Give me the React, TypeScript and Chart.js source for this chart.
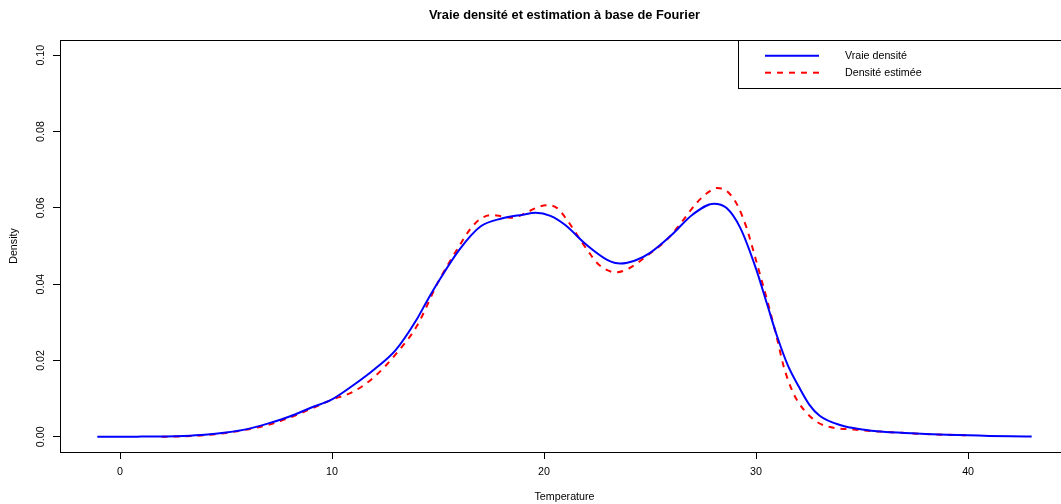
import React, { useEffect, useRef } from "react";
import { Chart, registerables } from "chart.js";

Chart.register(...registerables);

const TITLE = "Vraie densité et estimation à base de Fourier";
const X_LABEL = "Temperature";
const Y_LABEL = "Density";
const TRUE_LABEL = "Vraie densité";
const EST_LABEL = "Densité estimée";

const xTicks = [0, 10, 20, 30, 40];
const yTicks = [0, 0.02, 0.04, 0.06, 0.08, 0.1];

const trueX = [-1.07, 0, 1, 2, 3, 4, 5, 6, 7, 8, 9, 10, 11, 12, 13, 14, 14.5, 15, 16, 17, 18, 19, 19.6, 20.3, 21, 22, 23, 23.6, 24.3, 25, 26, 27, 28, 28.6, 29.25, 30, 30.5, 31, 31.5, 32, 32.5, 33, 34, 35, 36, 37, 38, 39, 40, 41, 42, 43];
const trueY = [0, 0, 0.00003, 0.00008, 0.0002, 0.0005, 0.0011, 0.002, 0.0035, 0.0053, 0.0076, 0.0098, 0.0135, 0.0177, 0.0227, 0.0308, 0.0358, 0.0405, 0.049, 0.0551, 0.0572, 0.0582, 0.0587, 0.0579, 0.0555, 0.0503, 0.0463, 0.0454, 0.0462, 0.0482, 0.0528, 0.0582, 0.0611, 0.06, 0.0548, 0.044, 0.0351, 0.0262, 0.0187, 0.0133, 0.0085, 0.0055, 0.003, 0.0019, 0.0013, 0.001, 0.0007, 0.0005, 0.0004, 0.0002, 0.0001, 0.00005];

const estX = [1.96, 3, 4, 5, 6, 7, 8, 9, 10, 11, 12, 13, 14, 15, 16, 16.5, 17, 17.5, 18, 18.5, 19, 19.6, 20.1, 20.6, 21.1, 21.7, 22.2, 22.6, 23.4, 24, 24.8, 25.8, 26.4, 27.2, 27.7, 28.15, 28.6, 29.1, 29.55, 30, 30.6, 31, 31.3, 31.75, 32.25, 32.9, 33.6, 34.6, 35.4, 36, 37, 38, 39, 39.9];
const estY = [0, 0.0001, 0.0004, 0.001, 0.0019, 0.0031, 0.005, 0.0073, 0.0097, 0.0118, 0.0157, 0.0216, 0.029, 0.0405, 0.05, 0.0543, 0.0571, 0.0581, 0.0578, 0.0574, 0.0583, 0.0599, 0.0607, 0.06, 0.0567, 0.0517, 0.0477, 0.045, 0.0431, 0.0441, 0.0472, 0.0517, 0.0556, 0.0613, 0.0639, 0.0652, 0.0645, 0.0609, 0.0548, 0.0462, 0.0342, 0.0255, 0.0185, 0.0115, 0.0071, 0.0038, 0.0024, 0.0019, 0.0015, 0.0013, 0.001, 0.0007, 0.0005, 0.0004];

const FONT = "'Liberation Sans', Arial, Helvetica, sans-serif";
const BASE = 10.7;

const boxPlugin = {
  id: "rbox",
  afterDraw(chart: any) {
    const { ctx, chartArea } = chart;
    ctx.save();
    ctx.strokeStyle = "#000";
    ctx.lineWidth = 1;
    ctx.strokeRect(Math.round(chartArea.left) + 0.5, Math.round(chartArea.top) + 0.5, Math.round(chartArea.right - chartArea.left), Math.round(chartArea.bottom - chartArea.top));
    // legend (topright, inset 0)
    const lx = 738.5, ly = Math.round(chartArea.top) + 0.5, lw = chartArea.right - 738, lh = 48;
    ctx.fillStyle = "#fff";
    ctx.fillRect(lx, ly, lw, lh);
    ctx.strokeRect(lx, ly, lw, lh);
    const rows = [55.7, 72.7];
    chart.data.datasets.forEach((ds: any, i: number) => {
      const y = rows[i];
      ctx.beginPath();
      ctx.strokeStyle = ds.borderColor;
      ctx.lineWidth = ds.borderWidth;
      ctx.setLineDash(ds.borderDash || []);
      ctx.moveTo(765, y);
      ctx.lineTo(819, y);
      ctx.stroke();
      ctx.setLineDash([]);
      ctx.fillStyle = "#000";
      ctx.font = `${BASE}px ${FONT}`;
      ctx.textBaseline = "middle";
      ctx.textAlign = "left";
      ctx.fillText(ds.label, 845, y);
    });
    ctx.restore();
  },
};

export default function App() {
  const ref = useRef<HTMLCanvasElement>(null);
  useEffect(() => {
    if (!ref.current) return;
    const chart = new Chart(ref.current, {
      type: "line",
      data: {
        datasets: [
          {
            label: TRUE_LABEL,
            data: trueX.map((x, i) => ({ x, y: trueY[i] })),
            borderColor: "#0000ff",
            borderWidth: 2,
            pointRadius: 0,
            cubicInterpolationMode: "monotone",
            fill: false,
          },
          {
            label: EST_LABEL,
            data: estX.map((x, i) => ({ x, y: estY[i] })),
            borderColor: "#ff0000",
            borderWidth: 2,
            borderDash: [6, 6],
            pointRadius: 0,
            cubicInterpolationMode: "monotone",
            fill: false,
          },
        ],
      },
      options: {
        animation: false,
        responsive: false,
        devicePixelRatio: 1,
        layout: { padding: { left: 0, right: 60, top: 0, bottom: 0 } },
        plugins: {
          legend: { display: false },
          tooltip: { enabled: false },
          title: {
            display: true,
            fullSize: false,
            text: TITLE,
            color: "#000",
            font: { family: FONT, size: 12.8, weight: "bold", lineHeight: 1.2 },
            padding: { top: 7.3, bottom: 17.3 },
          },
        },
        scales: {
          x: {
            type: "linear",
            min: -2.83,
            max: 44.76,
            afterBuildTicks: (s: any) => { s.ticks = xTicks.map((v) => ({ value: v })); },
            afterFit: (s: any) => { s.height = 52; },
            grid: { drawOnChartArea: false, drawTicks: true, tickLength: 7, color: "#000", lineWidth: 1 },
            border: { display: false },
            ticks: { color: "#000", font: { family: FONT, size: BASE, lineHeight: 1.2 }, padding: 6.6, maxRotation: 0, autoSkip: false },
            title: { display: true, text: X_LABEL, color: "#000", font: { family: FONT, size: BASE, lineHeight: 1.2 }, padding: { top: 0, bottom: 0.6 } },
          },
          y: {
            type: "linear",
            min: -0.004,
            max: 0.104,
            afterBuildTicks: (s: any) => { s.ticks = yTicks.map((v) => ({ value: v })); },
            afterFit: (s: any) => { s.width = 60; },
            grid: { drawOnChartArea: false, drawTicks: true, tickLength: 7, color: "#000", lineWidth: 1 },
            border: { display: false },
            ticks: {
              color: "#000",
              font: { family: FONT, size: BASE, lineHeight: 1.2 },
              padding: 1.6,
              minRotation: 90,
              maxRotation: 90,
              crossAlign: "center",
              autoSkip: false,
              callback: (v: any) => Number(v).toFixed(2),
            },
            title: { display: true, text: Y_LABEL, color: "#000", font: { family: FONT, size: BASE, lineHeight: 1.2 }, padding: { top: 7.6, bottom: 0 } },
          },
        },
      } as any,
      plugins: [boxPlugin],
    });
    return () => chart.destroy();
  }, []);
  return (
    <div style={{ position: "fixed", left: 0, top: 0, width: 1061, height: 504, overflow: "hidden", background: "#fff" }}>
      <canvas ref={ref} width={1129} height={504} style={{ width: 1129, height: 504, display: "block" }} />
    </div>
  );
}
